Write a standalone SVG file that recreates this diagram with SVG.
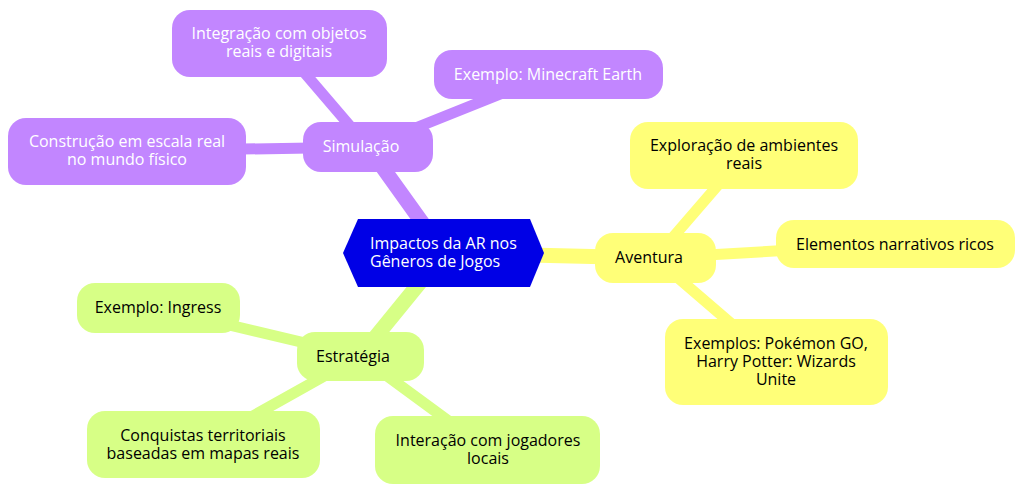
<svg xmlns="http://www.w3.org/2000/svg" width="1024" height="495" viewBox="0 0 1024 495">
<style>
text{font-family:"Open Sans","Liberation Sans",sans-serif;font-size:16px;text-anchor:middle}
.p rect{fill:#C286FF}.p text{fill:#ffffff}
.y rect{fill:#FFFF78}.y text{fill:#000000}
.g rect{fill:#D7FF86}.g text{fill:#000000}
.e{fill:none;stroke-linecap:round}
.d1{stroke-width:15}.d2{stroke-width:11}
.ep{stroke:#C286FF}.ey{stroke:#FFFF78}.eg{stroke:#D7FF86}
</style>
<g id="connectors">
<line class="e d1 ep" x1="444" y1="253" x2="368" y2="147"/>
<line class="e d1 ey" x1="444" y1="253" x2="655" y2="258"/>
<line class="e d1 eg" x1="444" y1="253" x2="360" y2="356"/>
<line class="e d2 ep" x1="368" y1="147" x2="279" y2="43"/>
<line class="e d2 ep" x1="368" y1="147" x2="548" y2="75"/>
<line class="e d2 ep" x1="368" y1="147" x2="127" y2="151"/>
<line class="e d2 ey" x1="655" y1="258" x2="744" y2="155"/>
<line class="e d2 ey" x1="655" y1="258" x2="895" y2="244"/>
<line class="e d2 ey" x1="655" y1="258" x2="776" y2="362"/>
<line class="e d2 eg" x1="360" y1="356" x2="158" y2="308"/>
<line class="e d2 eg" x1="360" y1="356" x2="203" y2="444"/>
<line class="e d2 eg" x1="360" y1="356" x2="488" y2="450"/>
</g>
<g id="root">
<polygon points="343,253 358,219 530,219 544,253 530,287 358,287" fill="#0000E6"/>
<text fill="#ffffff" style="text-anchor:start"><tspan x="370" y="249">Impactos da AR nos</tspan><tspan x="370" y="267">Gêneros de Jogos</tspan></text>
</g>
<g id="simulacao" class="p"><rect x="303" y="122" width="130" height="50" rx="18"/><text x="361" y="152">Simulação</text></g>
<g id="integracao" class="p"><rect x="172" y="10" width="215" height="67" rx="18"/><text><tspan x="279" y="39">Integração com objetos</tspan><tspan x="279" y="57">reais e digitais</tspan></text></g>
<g id="minecraft" class="p"><rect x="434" y="50" width="229" height="49" rx="18"/><text x="548" y="80">Exemplo: Minecraft Earth</text></g>
<g id="construcao" class="p"><rect x="8" y="118" width="238" height="67" rx="18"/><text><tspan x="127" y="147">Construção em escala real</tspan><tspan x="127" y="165">no mundo físico</tspan></text></g>
<g id="aventura" class="y"><rect x="595" y="233" width="121" height="50" rx="18"/><text x="649" y="263">Aventura</text></g>
<g id="exploracao" class="y"><rect x="630" y="122" width="228" height="67" rx="18"/><text><tspan x="744" y="151">Exploração de ambientes</tspan><tspan x="744" y="169">reais</tspan></text></g>
<g id="elementos" class="y"><rect x="776" y="220" width="239" height="48" rx="18"/><text x="895" y="250">Elementos narrativos ricos</text></g>
<g id="exemplos" class="y"><rect x="665" y="319" width="223" height="86" rx="18"/><text><tspan x="776" y="349">Exemplos: Pokémon GO,</tspan><tspan x="776" y="367">Harry Potter: Wizards</tspan><tspan x="776" y="385">Unite</tspan></text></g>
<g id="estrategia" class="g"><rect x="297" y="332" width="127" height="49" rx="18"/><text x="353" y="362">Estratégia</text></g>
<g id="ingress" class="g"><rect x="77" y="283" width="163" height="50" rx="18"/><text x="158" y="313">Exemplo: Ingress</text></g>
<g id="conquistas" class="g"><rect x="87" y="411" width="233" height="67" rx="18"/><text><tspan x="203" y="441">Conquistas territoriais</tspan><tspan x="203" y="459">baseadas em mapas reais</tspan></text></g>
<g id="interacao" class="g"><rect x="375" y="416" width="225" height="68" rx="18"/><text><tspan x="488" y="446">Interação com jogadores</tspan><tspan x="488" y="464">locais</tspan></text></g>
</svg>
